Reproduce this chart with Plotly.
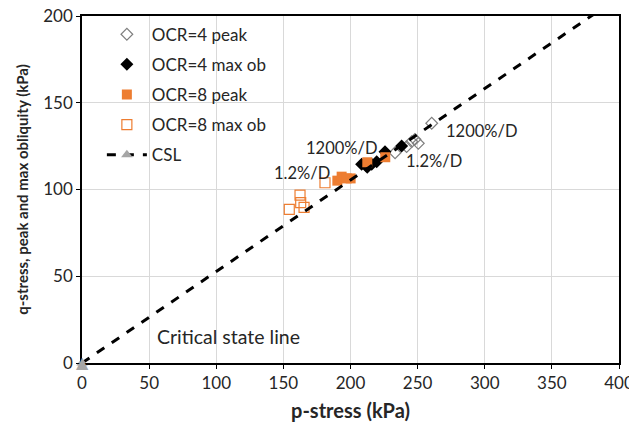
import plotly.graph_objects as go

# OCR=4 peak (open diamonds)
ocr4_peak_p = [233.2, 241.8, 245.6, 248.0, 250.5, 260.5]
ocr4_peak_q = [121.2, 124.7, 127.6, 128.9, 126.6, 138.2]
# OCR=4 max obliquity (filled diamonds)
ocr4_mo_p = [208.3, 212.5, 215.8, 219.5, 225.7, 238.1]
ocr4_mo_q = [114.5, 112.8, 114.5, 116.0, 121.8, 125.1]
# OCR=8 peak (filled squares)
ocr8_peak_p = [190.2, 193.4, 197.2, 200.1, 212.5, 225.9]
ocr8_peak_q = [105.1, 107.4, 106.4, 106.4, 115.7, 118.6]
# OCR=8 max obliquity (open squares)
ocr8_mo_p = [154.4, 162.4, 162.9, 165.4, 181.0]
ocr8_mo_q = [88.6, 96.8, 92.4, 89.7, 103.9]
# Critical state line
csl_p = [0, 440]
csl_q = [0, 232]

x_ticks = [0, 50, 100, 150, 200, 250, 300, 350, 400]
y_ticks = [0, 50, 100, 150, 200]

ann_p = [270, 240, 165, 141.5, 54.4]
ann_q = [134, 116.4, 124, 109.5, 15]
ann_text = ["1200%/D", "1.2%/D", "1200%/D", "1.2%/D", "Critical state line"]
ann_size = [16.5, 16.5, 16.5, 16.5, 19.5]

FONT = "Lato"
orange = "#ED7D31"
txt = "#262626"
gray_tri = "#a6a6a6"

fig = go.Figure()
fig.add_trace(go.Scatter(x=ocr4_peak_p, y=ocr4_peak_q, mode="markers", name="OCR=4 peak",
                         legendgroup="a",
                         marker=dict(symbol="diamond-open", size=9, color="#7f7f7f", line=dict(width=1.2))))
fig.add_trace(go.Scatter(x=ocr4_mo_p, y=ocr4_mo_q, mode="markers", name="OCR=4 max ob",
                         legendgroup="b",
                         marker=dict(symbol="diamond", size=10, color="black")))
fig.add_trace(go.Scatter(x=ocr8_peak_p, y=ocr8_peak_q, mode="markers", name="OCR=8 peak",
                         legendgroup="c",
                         marker=dict(symbol="square", size=10, color=orange)))
fig.add_trace(go.Scatter(x=ocr8_mo_p, y=ocr8_mo_q, mode="markers", name="OCR=8 max ob",
                         legendgroup="d",
                         marker=dict(symbol="square-open", size=10, color=orange, line=dict(width=1.2))))
fig.add_trace(go.Scatter(x=csl_p, y=csl_q, mode="lines+markers", name="CSL",
                         legendgroup="e", cliponaxis=False,
                         line=dict(color="black", width=3, dash="dash"),
                         marker=dict(symbol="triangle-up", size=10, color=gray_tri)))

# CSL start marker at the origin (drawn above the axes)
fig.add_annotation(x=csl_p[0], y=csl_q[0], text="▲", showarrow=False,
                   xanchor="center", yanchor="middle", yshift=1,
                   font=dict(family="DejaVu Sans", size=16, color=gray_tri))

for x, y, t, s in zip(ann_p, ann_q, ann_text, ann_size):
    fig.add_annotation(x=x, y=y, text=t, showarrow=False, xanchor="left", yanchor="middle",
                       font=dict(family=FONT, size=s, color=txt))

fig.update_layout(
    width=629, height=433,
    margin=dict(l=82, r=10, t=16, b=70),
    paper_bgcolor="white", plot_bgcolor="white",
    font=dict(family=FONT, size=17, color=txt),
    showlegend=True,
    legend=dict(x=0.037, y=0.998, xanchor="left", yanchor="top", itemwidth=40,
                bgcolor="rgba(0,0,0,0)", traceorder="grouped", tracegroupgap=5,
                font=dict(family=FONT, size=17, color=txt)),
    xaxis=dict(range=[0, 400], tickvals=x_ticks, showgrid=True, gridcolor="#d9d9d9",
               showline=True, linecolor="black", linewidth=1.5, mirror=True,
               ticks="outside", ticklen=4, tickcolor="black", zeroline=False,
               ticklabeloverflow="allow", tickfont=dict(size=17), automargin=False,
               title=dict(text="<b>p-stress (kPa)</b>", font=dict(family=FONT, size=20), standoff=12)),
    yaxis=dict(range=[0, 200], tickvals=y_ticks, showgrid=True, gridcolor="#d9d9d9",
               showline=True, linecolor="black", linewidth=1.5, mirror=True,
               ticks="outside", ticklen=4, tickcolor="black", zeroline=False,
               tickfont=dict(size=17), automargin=False,
               title=dict(text="<b>q-stress, peak and max obliquity (kPa)</b>", font=dict(family=FONT, size=15), standoff=11)),
)

fig.write_html("out.html")
